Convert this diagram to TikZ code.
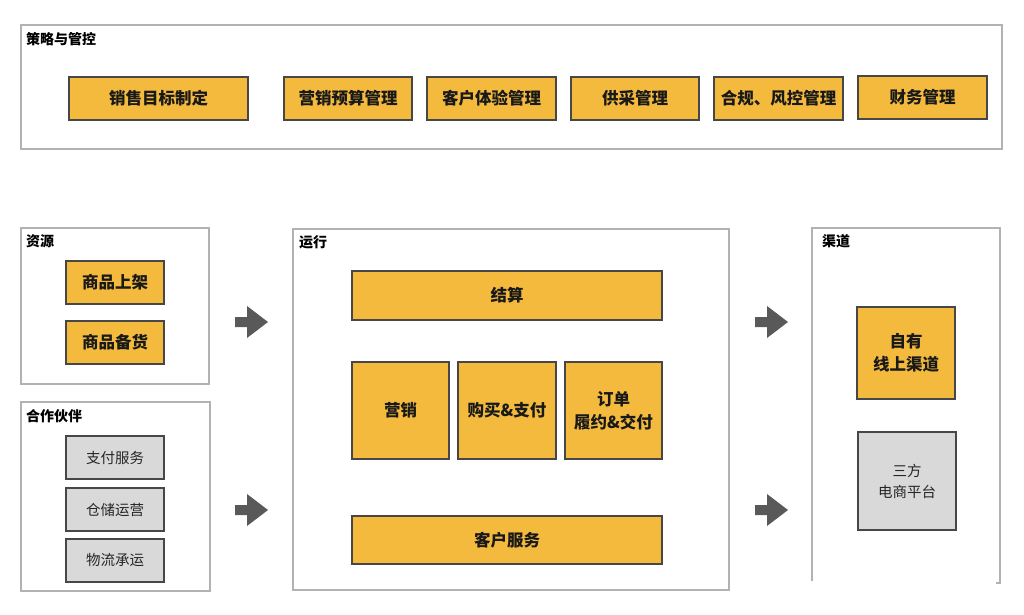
\documentclass[tikz,border=0pt]{standalone}
\usepackage{fontspec}
\setmainfont{Noto Sans CJK SC}
\begin{document}
\begin{tikzpicture}[x=1pt,y=-1pt,
  container/.style={draw=black!30,line width=1.2pt,fill=white},
  ybox/.style={draw=black!72,line width=1.2pt,fill=boxyellow,font=\bfseries\fontsize{16.5}{23}\selectfont,text=black!90,align=center,inner sep=0pt},
  gbox/.style={draw=black!72,line width=1.2pt,fill=boxgray,font=\fontsize{14.5}{21}\selectfont,text=black!85,align=center,inner sep=0pt},
  ttl/.style={anchor=north west,font=\bfseries\fontsize{14}{16}\selectfont,inner sep=0pt,text=black},
  bigarrow/.style={fill=black!65,draw=none}]
\definecolor{boxyellow}{HTML}{F3BA3E}
\definecolor{boxgray}{HTML}{D9D9D9}
\useasboundingbox (0,0) rectangle (1024,614);
\fill[white] (0,0) rectangle (1024,614);
% top container
\draw[container] (21,25) rectangle (1002,149);
\node[ttl] (t1) at (26,32) {策略与管控};
\node[ybox,minimum width=179pt,minimum height=43pt] (a1) at (158.5,98.5) {销售目标制定};
\node[ybox,minimum width=128pt,minimum height=43pt] (a2) at (348,98.5) {营销预算管理};
\node[ybox,minimum width=129pt,minimum height=43pt] (a3) at (491.5,98.5) {客户体验管理};
\node[ybox,minimum width=128pt,minimum height=43pt] (a4) at (635,98.5) {供采管理};
\node[ybox,minimum width=129pt,minimum height=43pt] (a5) at (778.5,98.5) {合规、风控管理};
\node[ybox,minimum width=129pt,minimum height=43pt] (a6) at (922.5,97.5) {财务管理};
% resources
\draw[container] (21,228) rectangle (209,384);
\node[ttl] (t2) at (26,234) {资源};
\node[ybox,minimum width=98pt,minimum height=43pt] (r1) at (115,282.5) {商品上架};
\node[ybox,minimum width=98pt,minimum height=43pt] (r2) at (115,342.5) {商品备货};
% partners
\draw[container] (21,402) rectangle (210,591);
\node[ttl] (t3) at (26,409) {合作伙伴};
\node[gbox,minimum width=98pt,minimum height=43pt] (p1) at (115,457.5) {支付服务};
\node[gbox,minimum width=98pt,minimum height=43pt] (p2) at (115,509.5) {仓储运营};
\node[gbox,minimum width=98pt,minimum height=43pt] (p3) at (115,560.5) {物流承运};
% operation
\draw[container] (293,229) rectangle (729,590);
\node[ttl] (t4) at (299,235) {运行};
\node[ybox,minimum width=310pt,minimum height=49pt] (o1) at (507,295.5) {结算};
\node[ybox,minimum width=97pt,minimum height=97pt] (o2) at (400.5,410.5) {营销};
\node[ybox,minimum width=98pt,minimum height=97pt] (o3) at (507,410.5) {购买\&支付};
\node[ybox,minimum width=97pt,minimum height=97pt] (o4) at (613.5,410.5) {订单\\履约\&交付};
\node[ybox,minimum width=310pt,minimum height=48pt] (o5) at (507,540) {客户服务};
% channels
\draw[container] (812,581) -- (812,228) -- (1000,228) -- (1000,583) -- (996,583);
\node[ttl] (t5) at (822,234) {渠道};
\node[ybox,minimum width=98pt,minimum height=92pt] (c1) at (906,353) {自有\\线上渠道};
\node[gbox,minimum width=98pt,minimum height=98pt] (c2) at (907,481) {三方\\电商平台};
% big arrows
\foreach \x/\y in {235/322,235/510,755/322,755/510}{
  \fill[bigarrow] (\x,\y-5) -- (\x+12,\y-5) -- (\x+12,\y-16) -- (\x+33,\y) -- (\x+12,\y+16) -- (\x+12,\y+5) -- (\x,\y+5) -- cycle;
}
\end{tikzpicture}
\end{document}
